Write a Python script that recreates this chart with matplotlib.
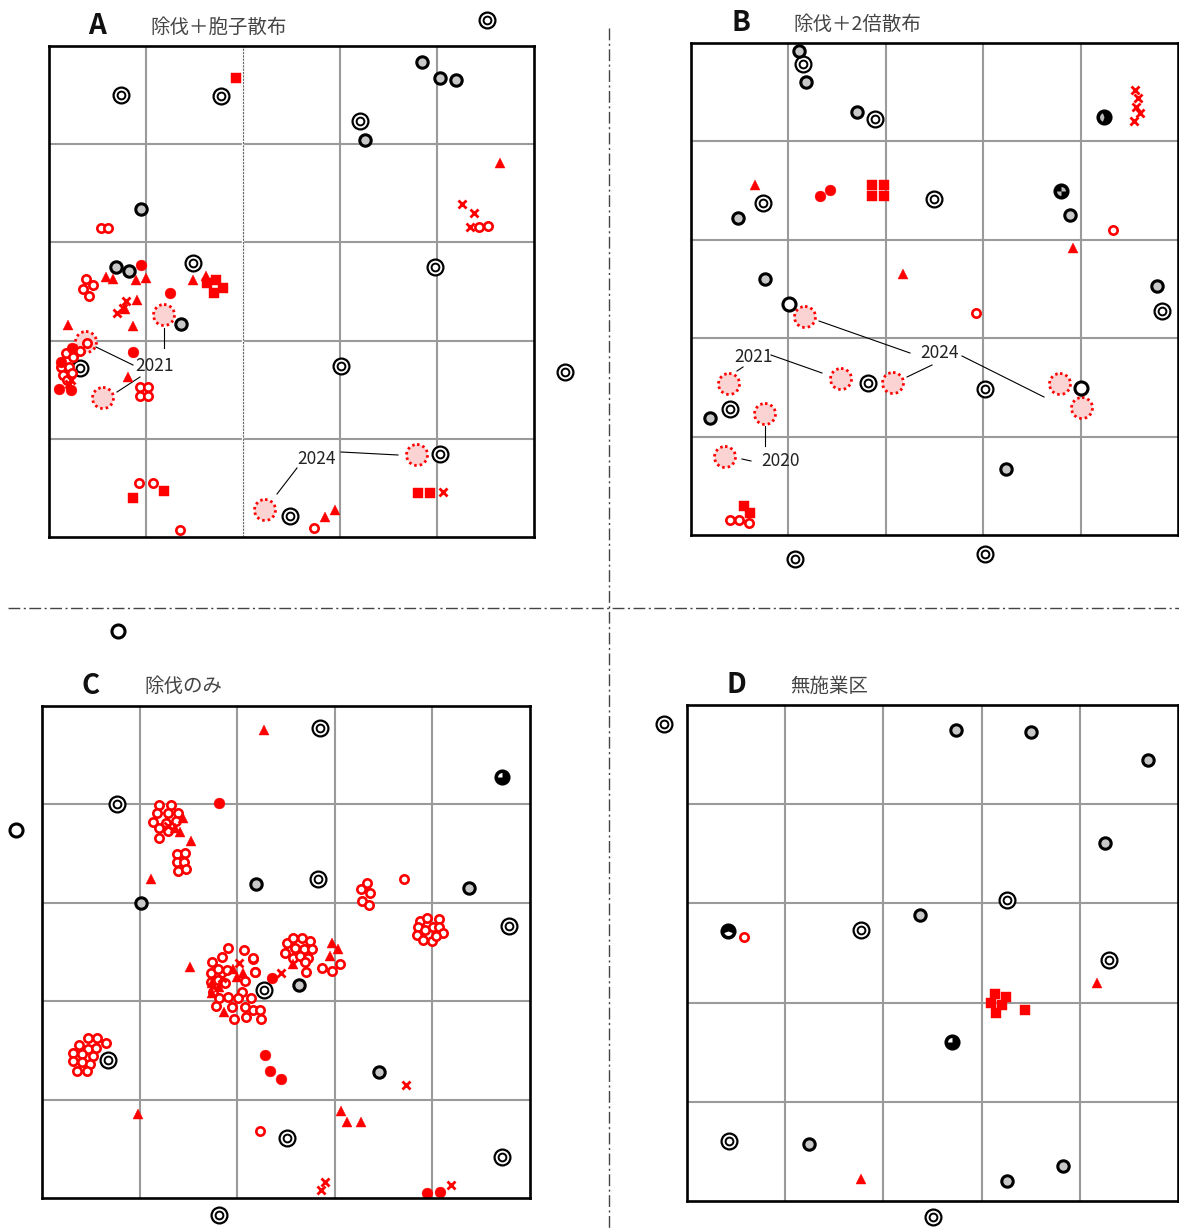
import numpy as np
import matplotlib.pyplot as plt
from matplotlib.patches import Circle
from matplotlib.path import Path

plt.rcParams['font.family'] = ['Noto Sans CJK JP', 'DejaVu Sans']

W, H = 1179, 1229

# ---- plot A : 除伐＋胞子散布 ----
A_DOUBLE = [(121, 95), (221, 96), (487, 20), (360, 121), (193, 263), (435, 267),
            (80, 368), (341, 366), (565, 372), (440, 454), (290, 516)]
A_GRAY = [(422, 62), (440, 78), (456, 80), (365, 140), (141, 209), (116, 267),
          (129, 271), (181, 324)]
A_RED_OPEN = [(101, 228), (108, 228), (479, 227), (488, 226), (86, 279), (93, 285),
              (83, 289), (89, 296), (87, 343), (80, 351), (66, 353), (73, 357),
              (61, 367), (69, 367), (63, 375), (72, 373), (67, 380), (140, 387),
              (148, 387), (140, 396), (148, 396), (139, 483), (153, 483), (180, 530),
              (314, 528)]
A_RED_DOT = [(141, 265), (170, 293), (133, 352), (72, 348), (61, 362), (59, 389), (71, 390)]
A_RED_TRI = [(500, 163), (106, 277), (113, 279), (136, 280), (146, 278), (193, 280),
             (206, 276), (137, 300), (125, 309), (133, 326), (68, 325), (128, 377),
             (325, 517), (335, 510)]
A_RED_SQ = [(236, 78), (207, 283), (216, 280), (214, 293), (223, 288), (133, 498),
            (164, 491), (418, 493), (430, 493)]
A_RED_X = [(462, 204), (474, 213), (470, 227), (126, 301), (117, 313), (123, 308),
           (71, 380), (69, 384), (443, 492)]
A_SPORE = [(164, 315), (86, 342), (103, 398), (265, 510), (417, 455)]
A_NOTES = [('2021', (155, 366), [((164, 328), (164, 348)), ((96, 347), (133, 365)),
                                 ((140, 377), (117, 392))]),
           ('2024', (317, 459), [((297, 468), (277, 494)), ((341, 452), (398, 455))])]

# ---- plot B : 除伐＋2倍散布 ----
B_DOUBLE = [(803, 64), (875, 119), (763, 203), (934, 199), (1162, 311), (868, 383),
            (985, 389), (730, 409), (795, 559), (985, 554)]
B_GRAY = [(799, 51), (806, 82), (857, 112), (738, 218), (1070, 215), (765, 279),
          (1157, 286), (710, 418), (1006, 469)]
B_OPEN = [(789, 304), (1081, 388)]
B_RED_OPEN = [(1113, 230), (976, 313), (730, 520), (739, 520), (749, 523)]
B_RED_DOT = [(820, 196), (830, 190)]
B_RED_TRI = [(755, 185), (1073, 248), (903, 274)]
B_RED_SQ = [(872, 185), (884, 185), (872, 196), (884, 196), (744, 506), (750, 513)]
B_RED_X = [(1135, 90), (1138, 98), (1136, 107), (1140, 113), (1134, 121)]
B_SPORE = [(805, 317), (729, 384), (841, 379), (893, 383), (1060, 384), (1082, 408),
           (765, 414), (725, 457)]
B_QUARTER = [(1104, 117)]
B_CHECK = [(1061, 191)]
B_NOTES = [('2021', (754, 357), [((771, 355), (822, 373)), ((743, 367), (737, 371))]),
           ('2024', (940, 353), [((819, 321), (910, 353)), ((932, 365), (907, 377)),
                                 ((962, 356), (1044, 397))]),
           ('2020', (781, 461), [((765, 426), (765, 446)), ((742, 459), (751, 461))])]

# ---- plot C : 除伐のみ ----
C_DOUBLE = [(320, 728), (117, 804), (318, 879), (509, 926), (264, 990), (108, 1060),
            (287, 1138), (502, 1157), (219, 1215)]
C_GRAY = [(256, 884), (141, 903), (469, 888), (299, 985), (379, 1072)]
C_OPEN = [(118, 631), (16, 830)]
C_WHITE_Q = [(502, 777)]
C_RED_OPEN = [
    (159, 805), (171, 805), (157, 813), (168, 813), (178, 813), (153, 822), (166, 823),
    (176, 821), (159, 828), (168, 831), (159, 838),
    (177, 854), (185, 853), (177, 862), (184, 862), (178, 871), (186, 869),
    (212, 962), (222, 957), (228, 948), (244, 950), (253, 959), (211, 973), (218, 969),
    (227, 970), (255, 972), (211, 982), (218, 980), (225, 983), (245, 981), (213, 992),
    (242, 992), (219, 998), (228, 997), (238, 998), (251, 998), (216, 1006), (232, 1007),
    (245, 1007), (253, 1010), (234, 1019), (246, 1017), (260, 1010), (261, 1019),
    (287, 943), (293, 938), (302, 938), (310, 941), (295, 948), (304, 949), (312, 949),
    (285, 953), (293, 958), (300, 956), (308, 958), (305, 962), (306, 972), (322, 968),
    (332, 971), (340, 964), (253, 958), (255, 972),
    (361, 889), (367, 883), (370, 893), (362, 901), (369, 905), (404, 879),
    (420, 921), (427, 918), (439, 919), (418, 927), (425, 930), (433, 927), (439, 927),
    (443, 933), (417, 935), (423, 940), (432, 941), (436, 936),
    (88, 1038), (97, 1038), (106, 1043), (79, 1045), (88, 1049), (96, 1048), (73, 1053),
    (82, 1054), (93, 1056), (73, 1061), (82, 1062), (90, 1064), (77, 1071), (87, 1071),
    (260, 1131)]
C_RED_DOT = [(219, 803), (272, 978), (265, 1055), (270, 1071), (281, 1079), (427, 1193),
             (440, 1192)]
C_RED_TRI = [(264, 730), (183, 818), (175, 828), (180, 832), (191, 841), (151, 879),
             (190, 967), (212, 983), (219, 987), (212, 993), (233, 969), (237, 977),
             (243, 973), (224, 1012), (332, 943), (338, 949), (330, 956), (293, 964),
             (138, 1114), (341, 1111), (347, 1122), (361, 1122)]
C_RED_X = [(168, 826), (239, 963), (222, 978), (281, 973), (406, 1085), (325, 1182),
           (321, 1190), (451, 1185)]

# ---- plot D : 無施業区 ----
D_DOUBLE = [(664, 724), (1007, 900), (861, 930), (1109, 960), (729, 1141), (933, 1217)]
D_GRAY = [(956, 730), (1031, 732), (1148, 760), (1105, 843), (920, 915), (809, 1144),
          (1007, 1181), (1063, 1166)]
D_WHITE_Q = [(952, 1042)]
D_WHITE_LOW = [(728, 931)]
D_RED_OPEN = [(744, 937)]
D_RED_TRI = [(1097, 983), (861, 1179)]
D_RED_SQ = [(995, 994), (1006, 997), (991, 1003), (1002, 1005), (996, 1013), (1025, 1010)]

PANELS = ['A', 'B', 'C', 'D']
TITLES = ['除伐＋胞子散布', '除伐＋2倍散布', '除伐のみ', '無施業区']

# frame boxes (x0, y0, x1, y1) and heading anchors, in figure pixels
BOXES = {'A': (49, 46, 534, 537), 'B': (691, 43, 1178, 535),
         'C': (42, 706, 530, 1198), 'D': (687, 705, 1178, 1201)}
HEAD = {'A': (97, 150, 26), 'B': (741, 793, 23), 'C': (91, 144, 686), 'D': (736, 790, 685)}

fig = plt.figure(figsize=(W / 100, H / 100), dpi=100)
bg = fig.add_axes([0, 0, 1, 1])
bg.set_xlim(0, W)
bg.set_ylim(H, 0)
bg.axis('off')

# dash-dot dividers between the four plots
dash = (0, (8.5, 2.5, 1.5, 2.5))
bg.plot([8, W], [608, 608], color='#444444', lw=1, ls=dash)
bg.plot([609, 609], [28, H], color='#444444', lw=1, ls=dash)

for key, title in zip(PANELS, TITLES):
    lx, tx, ty = HEAD[key]
    bg.text(lx, ty, key, fontsize=20, ha='center', va='center', color='#111111',
            weight='bold', family=['Liberation Sans Narrow', 'Noto Sans CJK JP'])
    bg.text(tx, ty + 1, title, fontsize=14, ha='left', va='center', color='#444444')

RED = '#ff0000'
S_DOUBLE_OUT = dict(marker='o', ms=11.4, mfc='white', mec='black', mew=1.6, zorder=4)
S_DOUBLE_IN = dict(marker='o', ms=5.6, mfc='white', mec='black', mew=1.4, zorder=4)
S_GRAY = dict(marker='o', ms=8.2, mfc='#c8c8c8', mec='black', mew=2.2, zorder=4)
S_OPEN = dict(marker='o', ms=9.4, mfc='white', mec='black', mew=2.2, zorder=4)
S_DARK = dict(marker='o', ms=9.4, mfc='black', mec='black', mew=2.2, zorder=4)
S_RED_OPEN = dict(marker='o', ms=6.0, mfc='white', mec=RED, mew=1.9, zorder=5)
S_RED_DOT = dict(marker='o', ms=7.8, mfc=RED, mec=RED, mew=0.3, zorder=5)
S_RED_TRI = dict(marker='^', ms=7.8, mfc=RED, mec=RED, mew=0.3, zorder=5)
S_RED_SQ = dict(marker='s', ms=7.4, mfc=RED, mec=RED, mew=0.3, zorder=5)
S_RED_X = dict(marker='x', ms=6.4, mec=RED, mew=2.0, zorder=5)


def put(ax, pts, style):
    if not pts:
        return
    x, y = zip(*pts)
    ax.plot(x, y, ls='none', clip_on=False, **style)


def pie(ax, pts, wedges, color):
    put(ax, pts, S_DARK)
    for t1, t2 in wedges:
        put(ax, pts, dict(marker=Path.wedge(t1, t2), ms=6.4, mfc=color, mec='none', zorder=4.5))


def panel(key, double=(), gray=(), opened=(), red_open=(), red_dot=(), red_tri=(),
          red_sq=(), red_x=(), spores=(), notes=()):
    x0, y0, x1, y1 = BOXES[key]
    ax = fig.add_axes([x0 / W, 1 - y1 / H, (x1 - x0) / W, (y1 - y0) / H])
    ax.set_xlim(x0, x1)
    ax.set_ylim(y1, y0)
    ax.set_facecolor('none')
    ax.set_xticks([])
    ax.set_yticks([])
    for sp in ax.spines.values():
        sp.set_linewidth(1.9)
        sp.set_zorder(6)
    for gx in np.linspace(x0, x1, 6)[1:-1]:
        ax.axvline(gx, color='#9a9a9a', lw=1.5, zorder=1)
    for gy in np.linspace(y0, y1, 6)[1:-1]:
        ax.axhline(gy, color='#9a9a9a', lw=1.5, zorder=1)

    for cx, cy in spores:
        ax.add_patch(Circle((cx, cy), 10.5, facecolor='#fcd3d3', edgecolor=RED,
                            lw=2.0, ls=(0, (0.9, 1.1)), zorder=2, clip_on=False))
    put(ax, list(double), S_DOUBLE_OUT)
    put(ax, list(double), S_DOUBLE_IN)
    put(ax, list(gray), S_GRAY)
    put(ax, list(opened), S_OPEN)
    put(ax, list(red_open), S_RED_OPEN)
    put(ax, list(red_dot), S_RED_DOT)
    put(ax, list(red_tri), S_RED_TRI)
    put(ax, list(red_sq), S_RED_SQ)
    put(ax, list(red_x), S_RED_X)

    for label, (tx, ty), segs in notes:
        ax.text(tx, ty, label, fontsize=12.5, ha='center', va='center', color='#222222',
                family=['Liberation Sans Narrow', 'Noto Sans CJK JP'], zorder=7)
        for (xa, ya), (xb, yb) in segs:
            ax.plot([xa, xb], [ya, yb], color='black', lw=0.8, zorder=3, clip_on=False)
    return ax


ax_a = panel('A', A_DOUBLE, A_GRAY, (), A_RED_OPEN, A_RED_DOT, A_RED_TRI, A_RED_SQ,
             A_RED_X, A_SPORE, A_NOTES)
ax_b = panel('B', B_DOUBLE, B_GRAY, B_OPEN, B_RED_OPEN, B_RED_DOT, B_RED_TRI, B_RED_SQ,
             B_RED_X, B_SPORE, B_NOTES)
pie(ax_b, B_QUARTER, [(110, 250)], '#bdbdbd')
pie(ax_b, B_CHECK, [(0, 90), (180, 270)], '#bdbdbd')
ax_c = panel('C', C_DOUBLE, C_GRAY, C_OPEN, C_RED_OPEN, C_RED_DOT, C_RED_TRI, (),
             C_RED_X)
pie(ax_c, C_WHITE_Q, [(90, 180)], 'white')
ax_d = panel('D', D_DOUBLE, D_GRAY, (), D_RED_OPEN, (), D_RED_TRI, D_RED_SQ)
pie(ax_d, D_WHITE_Q, [(90, 180)], 'white')
pie(ax_d, D_WHITE_LOW, [(200, 340)], 'white')

# the middle column line of plot A is drawn finer
xa0, ya0, xa1, ya1 = BOXES['A']
mid = np.linspace(xa0, xa1, 6)[2]
ax_a.axvline(mid, color='white', lw=1.6, zorder=1.1)
ax_a.axvline(mid, color='#666666', lw=0.8, ls=(0, (2, 1)), zorder=1.2)

fig.savefig('out.png', dpi=100)
